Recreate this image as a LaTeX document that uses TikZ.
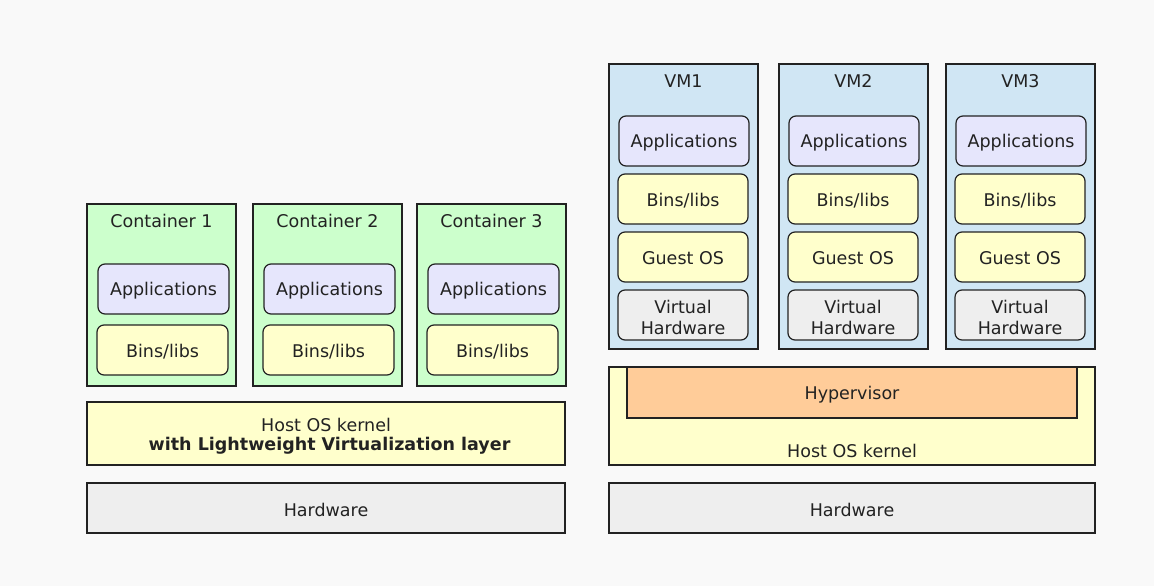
\documentclass[tikz,border=0pt]{standalone}
\usepackage{fontspec}
\setmainfont{DejaVu Sans}
\definecolor{bgc}{HTML}{F9F9F9}
\definecolor{contc}{HTML}{CCFFCC}
\definecolor{vmc}{HTML}{D0E6F4}
\definecolor{appc}{HTML}{E6E6FC}
\definecolor{binc}{HTML}{FFFFCC}
\definecolor{hwc}{HTML}{EEEEEE}
\definecolor{hypc}{HTML}{FFCC99}
\definecolor{linec}{HTML}{222222}
\tikzset{
  outer/.style={draw=linec, line width=1.3pt},
  inner/.style={draw=linec, line width=1.2pt, rounded corners=7pt},
  lbl/.style={font=\fontsize{17.5}{21}\selectfont, text=linec, align=center, inner sep=0pt, yshift=-1.5pt},
}
\begin{document}
\begin{tikzpicture}[x=1pt,y=-1pt]
\fill[bgc] (0,0) rectangle (1154,586);
\useasboundingbox (0,0) rectangle (1154,586);
% ---------- Left: containers ----------
\foreach \n/\x/\ax in {1/87/98, 2/253/264, 3/417/428}{
  \draw[outer, fill=contc] (\x,204) rectangle ++(149,182);
  \node[lbl] (ct\n) at (\x+74.5,219) {Container \n};
  \draw[inner, fill=appc] (\ax,264) rectangle ++(131,50);
  \node[lbl] (ap\n) at (\ax+65.5,289) {Applications};
  \draw[inner, fill=binc] (\ax-1,325) rectangle ++(131,50);
  \node[lbl] (bl\n) at (\ax+64.5,350) {Bins/libs};
}
\draw[outer, fill=binc] (87,402) rectangle (565,465);
\node[lbl] (hostL) at (326,423) {Host OS kernel};
\node[lbl, font=\fontsize{17.5}{21}\selectfont\bfseries] (hostLb) at (329.5,444) {with Lightweight Virtualization layer};
\draw[outer, fill=hwc] (87,483) rectangle (565,533);
\node[lbl] (hwL) at (326,508) {Hardware};
% ---------- Right: VMs ----------
\foreach \n/\x in {1/609, 2/779, 3/946}{
  \draw[outer, fill=vmc] (\x,64) rectangle ++(149,285);
  \node[lbl] (vm\n) at (\x+74.5,80) {VM\n};
  \draw[inner, fill=appc] (\x+10,116) rectangle ++(130,50);
  \node[lbl] (vap\n) at (\x+75,141) {Applications};
  \draw[inner, fill=binc] (\x+9,174) rectangle ++(130,50);
  \node[lbl] (vbl\n) at (\x+74,199) {Bins/libs};
  \draw[inner, fill=binc] (\x+9,232) rectangle ++(130,50);
  \node[lbl] (vgo\n) at (\x+74,257) {Guest OS};
  \draw[inner, fill=hwc] (\x+9,290) rectangle ++(130,50);
  \node[lbl, font=\fontsize{17.5}{21}\selectfont] (vhw\n) at (\x+74,315.5) {Virtual\\Hardware};
}
\draw[outer, fill=binc] (609,367) rectangle (1095,465);
\draw[outer, fill=hypc] (627,367) rectangle (1077,418);
\draw[outer] (609,367) -- (1095,367);
\node[lbl] (hyp) at (852,393) {Hypervisor};
\node[lbl] (hostR) at (852,449) {Host OS kernel};
\draw[outer, fill=hwc] (609,483) rectangle (1095,533);
\node[lbl] (hwR) at (852,508) {Hardware};
\end{tikzpicture}
\end{document}
